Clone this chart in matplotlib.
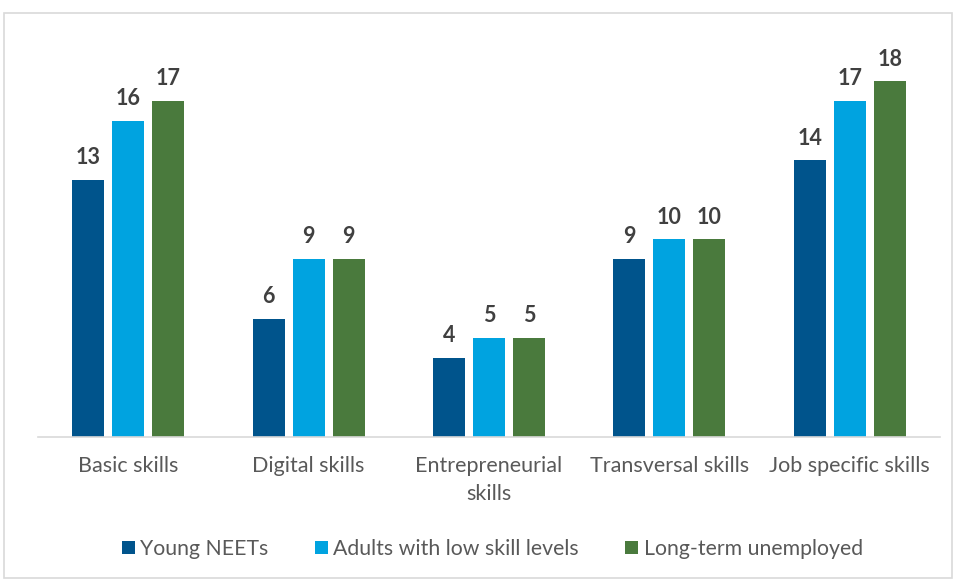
import numpy as np
import matplotlib.pyplot as plt
from matplotlib.patches import Rectangle

categories = ["Basic skills", "Digital skills", "Entrepreneurial\nskills",
              "Transversal skills", "Job specific skills"]
young_neets = [13, 6, 4, 9, 14]
adults_low_skill = [16, 9, 5, 10, 17]
long_term_unemployed = [17, 9, 5, 10, 18]

series_names = ["Young NEETs", "Adults with low skill levels", "Long-term unemployed"]
colors = ["#00548C", "#00A3E0", "#4A7A3D"]

plt.rcParams["font.family"] = ["Lato", "DejaVu Sans"]

fig = plt.figure(figsize=(9.56, 5.81), dpi=100)
ax = fig.add_axes([0.0397, 0.2478, 0.9436, 0.68])

x = np.arange(len(categories))
width = 0.177
step = 0.2216
for i, (vals, name, col) in enumerate(zip(
        [young_neets, adults_low_skill, long_term_unemployed], series_names, colors)):
    bars = ax.bar(x + (i - 1) * step, vals, width, color=col, label=name)
    for b, v in zip(bars, vals):
        ax.text(b.get_x() + b.get_width() / 2, v + 0.6, str(v), ha="center", va="bottom",
                fontsize=15.5, fontweight="bold", color="#404040")

ax.set_xlim(-0.5, len(categories) - 0.5)
ax.set_ylim(0, 20)
ax.set_xticks(x)
ax.set_xticklabels(categories, fontsize=15.5, color="#595959", linespacing=1.45)
ax.tick_params(axis="x", length=0, pad=14)
ax.set_yticks([])
for s in ["top", "right", "left"]:
    ax.spines[s].set_visible(False)
ax.spines["bottom"].set_color("#D9D9D9")
ax.spines["bottom"].set_linewidth(1.2)

leg = fig.legend(loc="center", bbox_to_anchor=(0.515, 0.055), ncol=3, frameon=False,
                 fontsize=15.3, handlelength=0.6, handleheight=0.6, handletextpad=0.25,
                 columnspacing=2.2)
for t in leg.get_texts():
    t.set_color("#595959")

fig.patches.append(Rectangle((4 / 956, 3 / 581), 948 / 956, 565 / 581,
                             transform=fig.transFigure, fill=False,
                             edgecolor="#D9D9D9", linewidth=1.2))

fig.savefig("out.png", dpi=100)
